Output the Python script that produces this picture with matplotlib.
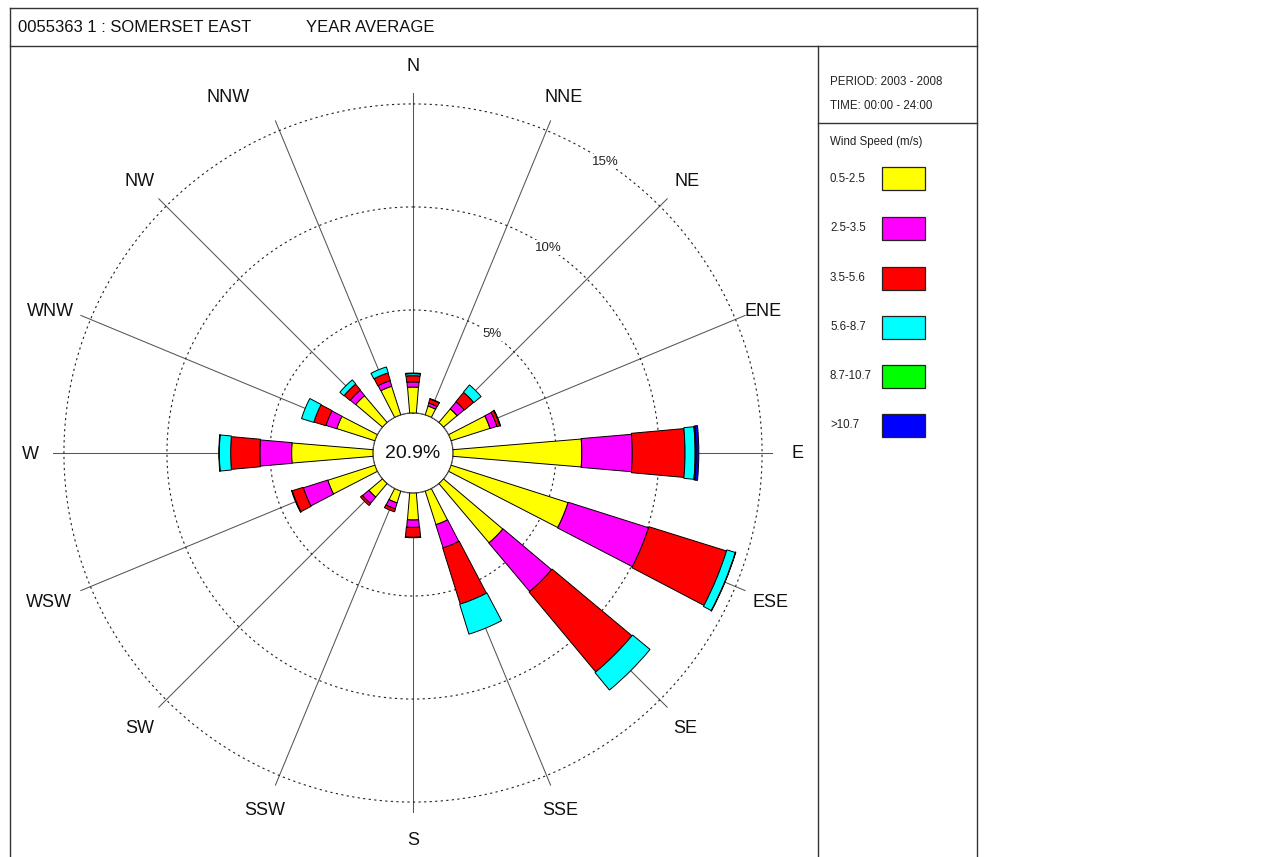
import numpy as np
import matplotlib
matplotlib.use("Agg")
import matplotlib.pyplot as plt
from matplotlib.lines import Line2D
from matplotlib.patches import Rectangle

plt.rcParams['font.family'] = ['Liberation Sans', 'DejaVu Sans']

# ---------------- data ----------------
directions = ['N', 'NNE', 'NE', 'ENE', 'E', 'ESE', 'SE', 'SSE',
              'S', 'SSW', 'SW', 'WSW', 'W', 'WNW', 'NW', 'NNW']
speed_classes = ['0.5-2.5', '2.5-3.5', '3.5-5.6', '5.6-8.7', '8.7-10.7', '>10.7']
class_colors = ['#FFFF00', '#FF00FF', '#FF0000', '#00FFFF', '#00FF00', '#0000FF']

# frequency (%) per direction for each speed class
s_05_25 = [1.26, 0.45, 0.86, 1.98, 6.25, 5.96, 3.77, 1.71, 1.31, 0.60, 0.86, 2.40, 3.95, 1.94, 1.70, 1.46]
s_25_35 = [0.25, 0.15, 0.45, 0.35, 2.45, 4.09, 3.08, 1.18, 0.36, 0.30, 0.40, 1.24, 1.54, 0.55, 0.34, 0.28]
s_35_56 = [0.30, 0.20, 0.58, 0.15, 2.56, 3.95, 5.05, 2.85, 0.48, 0.15, 0.12, 0.56, 1.42, 0.61, 0.37, 0.39]
s_56_87 = [0.10, 0.02, 0.46, 0.03, 0.49, 0.43, 1.10, 1.52, 0.02, 0.00, 0.00, 0.03, 0.55, 0.62, 0.26, 0.30]
s_87_107 = [0.03, 0.00, 0.00, 0.00, 0.05, 0.02, 0.00, 0.00, 0.00, 0.00, 0.00, 0.00, 0.02, 0.00, 0.00, 0.00]
s_gt_107 = [0.00, 0.00, 0.00, 0.00, 0.13, 0.00, 0.00, 0.00, 0.00, 0.00, 0.00, 0.00, 0.00, 0.00, 0.00, 0.00]
calm_pct = 20.9
ring_values = [5, 10, 15]

title_left = '0055363 1 : SOMERSET EAST'
title_right = 'YEAR AVERAGE'
period_text = 'PERIOD: 2003 - 2008'
time_text = 'TIME: 00:00 - 24:00'
legend_title = 'Wind Speed (m/s)'

series = [s_05_25, s_25_35, s_35_56, s_56_87, s_87_107, s_gt_107]

# ---------------- layout ----------------
W, H = 1263, 857
fig = plt.figure(figsize=(W / 100, H / 100), dpi=100)
fig.patch.set_facecolor('white')

def fx(px):
    return px / W

def fy(py):
    return 1 - py / H

cx, cy, rad_px = 413, 453, 360
ax = fig.add_axes([fx(cx - rad_px), fy(cy + rad_px), 2 * rad_px / W, 2 * rad_px / H],
                  projection='polar')
ax.set_theta_zero_location('N')
ax.set_theta_direction(-1)
r_origin = -1.942
r_max = 15.53
ax.set_rorigin(r_origin)
ax.set_ylim(0, r_max)
ax.set_xticks([])
ax.set_yticks([])
ax.grid(False)
ax.spines['polar'].set_visible(False)
ax.patch.set_alpha(0)

theta = np.deg2rad(np.arange(16) * 22.5)

# spokes
for t in theta:
    ax.plot([t, t], [0, r_max], color='#555555', lw=0.75, zorder=1)

# dotted rings
tt = np.linspace(0, 2 * np.pi, 721)
for rv in ring_values:
    ax.plot(tt, np.full_like(tt, rv), color='#222222', lw=0.8,
            linestyle=(0, (2, 3)), zorder=1)

# calm hole boundary
ax.plot(tt, np.zeros_like(tt), color='#9a9a9a', lw=0.8, zorder=3)

# stacked bars
widths_deg = [9.5, 9.8, 10.3, 10.7, 10.9, 11.0]
bottom = np.zeros(16)
for vals, col, wd in zip(series, class_colors, widths_deg):
    vals = np.array(vals)
    mask = vals > 0
    ax.bar(theta[mask], vals[mask], width=np.deg2rad(wd), bottom=bottom[mask],
           color=col, edgecolor='black', linewidth=0.7, zorder=4)
    bottom = bottom + vals

# ring labels
for rv in ring_values:
    ax.text(np.deg2rad(33.5), rv, f'{rv}%', ha='center', va='center',
            fontsize=9.5, color='#222222', zorder=2,
            bbox=dict(facecolor='white', edgecolor='none', pad=1.0))

# direction labels (small pixel nudges of the label anchor)
label_dx = [0, 2, 0, -8, -3, 0, -2, -1, 0, 0, 0, -6, 5, -5, 0, -37]
label_dy = [-1, -2, -2, -7, -1, -1, -2, 0, 0, 0, -2, -1, -1, -7, -2, -2]
for t, d, ddx, ddy in zip(theta, directions, label_dx, label_dy):
    ax.annotate(d, xy=(t, 16.85), xytext=(ddx * 0.72, ddy * 0.72),
                textcoords='offset points', ha='center', va='center',
                fontsize=13, color='#111111', annotation_clip=False)

# calm text
ax.text(0, r_origin, f'{calm_pct}%', ha='center', va='center', fontsize=14,
        color='#111111', zorder=5)

# ---------------- frame ----------------
def hline(y, x0, x1):
    fig.add_artist(Line2D([fx(x0), fx(x1)], [fy(y), fy(y)], color='#333333', lw=1.0))

def vline(x, y0, y1):
    fig.add_artist(Line2D([fx(x), fx(x)], [fy(y0), fy(y1)], color='#333333', lw=1.0))

hline(8, 10, 977)
hline(46, 10, 977)
hline(123, 818, 977)
vline(10, 8, 860)
vline(977, 8, 860)
vline(818, 46, 860)

fig.text(fx(18), fy(27), title_left, ha='left', va='center', fontsize=12, color='#111111')
fig.text(fx(306), fy(27), title_right, ha='left', va='center', fontsize=12, color='#111111')

fig.text(fx(830), fy(82), period_text, ha='left', va='center', fontsize=8.3, color='#222222')
fig.text(fx(830), fy(106), time_text, ha='left', va='center', fontsize=8.3, color='#222222')
fig.text(fx(830), fy(142), legend_title, ha='left', va='center', fontsize=8.3, color='#222222')

legend_y = [179, 228, 278, 327, 376, 425]
for lab, col, ly in zip(speed_classes, class_colors, legend_y):
    fig.text(fx(830), fy(ly), lab, ha='left', va='center', fontsize=8.3, color='#222222')
    fig.add_artist(Rectangle((fx(882), fy(ly + 11.5)), 43 / W, 23 / H,
                             facecolor=col, edgecolor='#222222', lw=0.9,
                             transform=fig.transFigure))

fig.savefig('out.png', dpi=100)
